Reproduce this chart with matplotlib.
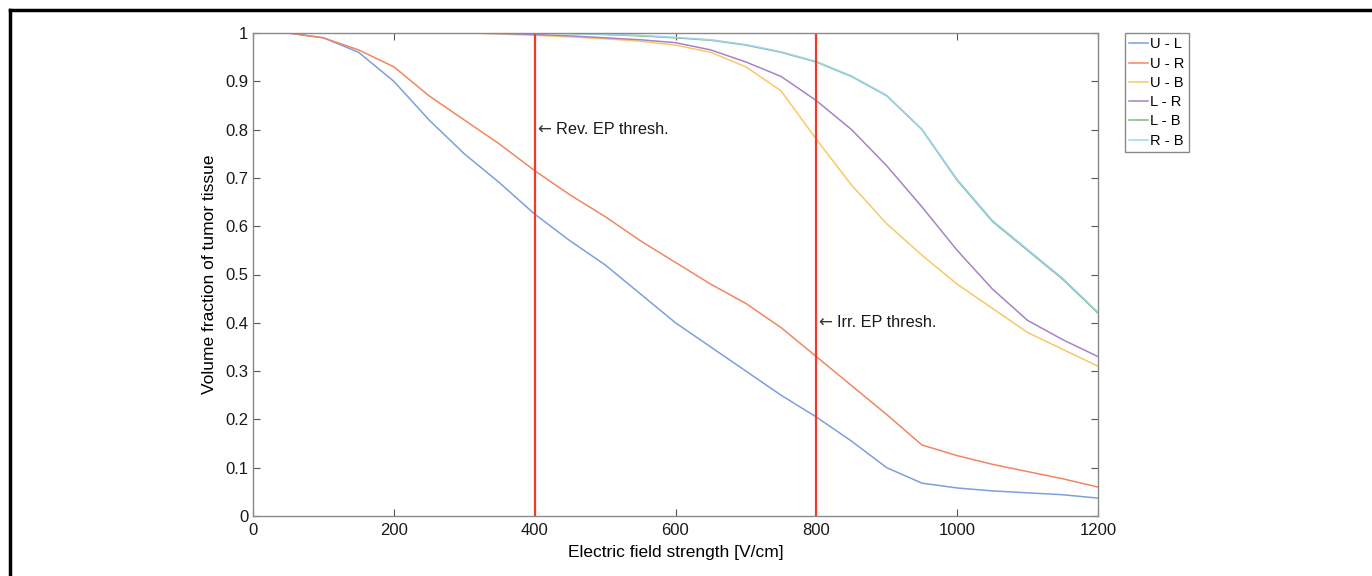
import matplotlib
matplotlib.use("Agg")
import matplotlib.pyplot as plt
from matplotlib.lines import Line2D

plt.rcParams['font.family'] = ['Liberation Sans', 'DejaVu Sans']

x = [0, 50, 100, 150, 200, 250, 300, 350, 400, 450, 500, 550, 600, 650, 700,
     750, 800, 850, 900, 950, 1000, 1050, 1100, 1150, 1200]

u_l = [1.0, 1.0, 0.99, 0.96, 0.90, 0.82, 0.75, 0.69, 0.625, 0.57, 0.52, 0.46,
       0.40, 0.35, 0.30, 0.25, 0.205, 0.155, 0.10, 0.068, 0.058, 0.052, 0.048,
       0.044, 0.037]
u_r = [1.0, 1.0, 0.99, 0.965, 0.93, 0.87, 0.82, 0.77, 0.715, 0.665, 0.62, 0.57,
       0.525, 0.48, 0.44, 0.39, 0.33, 0.27, 0.21, 0.147, 0.125, 0.107, 0.092,
       0.077, 0.06]
u_b = [1.0, 1.0, 1.0, 1.0, 1.0, 1.0, 1.0, 0.998, 0.995, 0.992, 0.988, 0.983,
       0.975, 0.96, 0.93, 0.88, 0.78, 0.685, 0.605, 0.54, 0.48, 0.43, 0.38,
       0.345, 0.31]
l_r = [1.0, 1.0, 1.0, 1.0, 1.0, 1.0, 1.0, 0.999, 0.997, 0.994, 0.99, 0.986,
       0.98, 0.965, 0.94, 0.91, 0.86, 0.80, 0.725, 0.64, 0.55, 0.47, 0.405,
       0.365, 0.33]
l_b = [1.0, 1.0, 1.0, 1.0, 1.0, 1.0, 1.0, 1.0, 1.0, 0.999, 0.997, 0.994,
       0.99, 0.985, 0.975, 0.96, 0.94, 0.91, 0.87, 0.80, 0.695, 0.61, 0.55,
       0.49, 0.42]
r_b = [1.0, 1.0, 1.0, 1.0, 1.0, 1.0, 1.0, 1.0, 1.0, 0.999, 0.997, 0.995,
       0.991, 0.986, 0.976, 0.961, 0.941, 0.911, 0.871, 0.801, 0.697, 0.612,
       0.552, 0.492, 0.422]

labels = ['U - L', 'U - R', 'U - B', 'L - R', 'L - B', 'R - B']
series = [u_l, u_r, u_b, l_r, l_b, r_b]
colors = ['#7c9fe0', '#f28660', '#f8c868', '#a782c6', '#7bb87e', '#9fd4f0']

thresholds = [400, 800]
thresh_labels = ['Rev. EP thresh.', 'Irr. EP thresh.']
thresh_y = [0.8, 0.4]

fig = plt.figure(figsize=(13.72, 5.76), dpi=100)
ax = fig.add_axes([253/1372, 60/576, (1098-253)/1372, (516-33)/576])

for s, lab, c in zip(series, labels, colors):
    ax.plot(x, s, color=c, lw=1.1, label=lab)

for t, tl, ty in zip(thresholds, thresh_labels, thresh_y):
    ax.axvline(t, color='#ee3b2a', lw=1.6)
    ax.annotate('\u2190', xy=(t, ty), xytext=(1.5, 0), textcoords='offset points',
                fontsize=12, va='center', ha='left', color='#333333',
                family=['DejaVu Sans'])
    ax.annotate(tl, xy=(t, ty), xytext=(15, 0), textcoords='offset points',
                fontsize=11.7, va='center', ha='left', color='#1a1a1a')

ax.set_xlim(0, 1200)
ax.set_ylim(0, 1)
ax.set_xticks([0, 200, 400, 600, 800, 1000, 1200])
ax.set_yticks([0, 0.1, 0.2, 0.3, 0.4, 0.5, 0.6, 0.7, 0.8, 0.9, 1])
ax.set_yticklabels(['0', '0.1', '0.2', '0.3', '0.4', '0.5', '0.6', '0.7',
                    '0.8', '0.9', '1'])
ax.tick_params(direction='in', top=True, right=True, length=5, width=0.8,
               color='#555555', labelsize=12, labelcolor='#1a1a1a')
ax.tick_params(axis='x', pad=5)
ax.tick_params(axis='y', pad=3.5)
for sp in ax.spines.values():
    sp.set_color('#8a8a8a')
    sp.set_linewidth(1.0)

ax.set_xlabel('Electric field strength [V/cm]', fontsize=12.5, labelpad=5)
ax.set_ylabel('Volume fraction of tumor tissue', fontsize=12.5, labelpad=6)

leg = fig.legend(loc='upper left', bbox_to_anchor=(1125/1372, 1 - 33/576),
                 fontsize=10.5, handlelength=1.3, handletextpad=0.1,
                 borderpad=0.3, labelspacing=0.36, fancybox=False,
                 framealpha=1, borderaxespad=0)
leg.get_frame().set_edgecolor('#8a8a8a')
leg.get_frame().set_linewidth(1.0)

# outer frame lines (top and left)
fig.add_artist(Line2D([10/1372, 1.0], [1 - 10/576, 1 - 10/576],
                      transform=fig.transFigure, color='black', lw=2.5))
fig.add_artist(Line2D([10/1372, 10/1372], [0.0, 1 - 10/576],
                      transform=fig.transFigure, color='black', lw=2.5))

fig.savefig('out.png', dpi=100)
